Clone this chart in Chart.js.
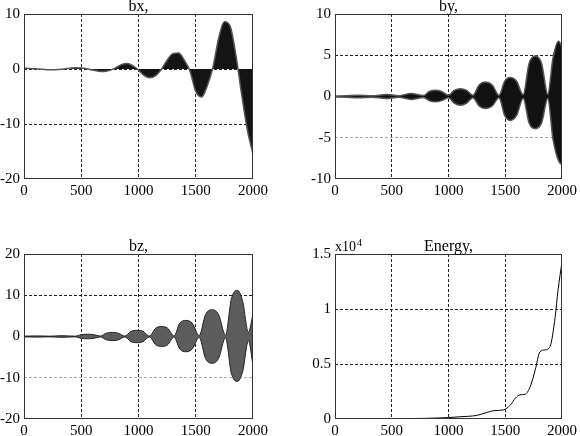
<!DOCTYPE html>
<html>
<head>
<meta charset="utf-8">
<script src="https://cdn.jsdelivr.net/npm/chart.js@4"></script>
<style>
  body { margin: 0; background: #fff; }
  #wrap { position: relative; width: 580px; height: 436px; }
  .cell { position: absolute; width: 290px; height: 218px; }
</style>
</head>
<body>
<div id="wrap">
  <div class="cell" style="left:0;top:0"><canvas id="bx" width="290" height="218"></canvas></div>
  <div class="cell" style="left:290px;top:0"><canvas id="by" width="290" height="218"></canvas></div>
  <div class="cell" style="left:0;top:218px"><canvas id="bz" width="290" height="218"></canvas></div>
  <div class="cell" style="left:290px;top:218px"><canvas id="energy" width="290" height="218"></canvas></div>
</div>
<script>
// x axis ticks shared by all four panels
const xTicks = [0, 500, 1000, 1500, 2000];

// bx: slowly varying curve, signal fills between it and zero
const bxX = [0, 50, 100, 150, 200, 250, 300, 350, 400, 450, 500, 550, 600, 650, 700, 750, 800, 850, 900, 950,
  1000, 1050, 1100, 1150, 1200, 1250, 1300, 1350, 1400, 1450, 1500, 1550, 1600, 1650, 1700, 1750, 1800, 1850, 1900, 1950, 2000];
const bxY = [0.15, 0.1, 0.03, -0.05, -0.12, -0.15, -0.1, 0.0, 0.15, 0.25, 0.2, 0.05, -0.2, -0.4, -0.45, -0.25, 0.2, 0.8, 1.0, 0.6,
  -0.2, -1.2, -1.6, -1.2, -0.05, 1.6, 2.8, 2.9, 1.6, -0.4, -4.1, -5.1, -3.1, 0.3, 5.6, 8.6, 7.8, 2.6, -4.5, -11, -15.5];
const bxTicks = [-20, -10, 0, 10];

// by: upper / lower envelope of the oscillation
const byX = [0, 100, 200, 330, 450, 560, 670, 780, 830, 885, 940, 1000, 1050, 1106, 1160, 1215, 1270, 1324, 1385, 1445,
  1495, 1542, 1600, 1658, 1710, 1765, 1820, 1875, 1920, 1970, 2000];
const byUpper = [0.06, 0.1, 0.15, 0.08, 0.25, 0.1, 0.35, 0.12, 0.6, 0.75, 0.6, 0.15, 0.75, 0.95, 0.75, 0.15, 1.4, 1.75, 1.4, 0.15,
  1.85, 2.3, 1.85, 0.2, 4.0, 4.9, 4.0, 0.25, 4.6, 6.7, 6.0];
const byLower = [-0.06, -0.1, -0.15, -0.08, -0.25, -0.1, -0.35, -0.12, -0.5, -0.65, -0.5, -0.15, -0.8, -1.05, -0.8, -0.15, -1.15, -1.45, -1.15, -0.15,
  -2.3, -2.9, -2.3, -0.2, -3.2, -3.9, -3.2, -0.25, -5.1, -7.8, -8.3];
const byTicks = [-10, -5, 0, 5, 10];

// bz: upper / lower envelope
const bzX = [0, 110, 220, 330, 445, 500, 555, 610, 665, 720, 770, 825, 880, 935, 990, 1040, 1095, 1150, 1200, 1255, 1310,
  1360, 1415, 1470, 1530, 1585, 1643, 1700, 1760, 1810, 1863, 1910, 1960, 2000];
const bzUpper = [0.08, 0.15, 0.08, 0.2, 0.08, 0.45, 0.55, 0.45, 0.1, 0.8, 1.0, 0.8, 0.1, 1.25, 1.5, 1.25, 0.1, 2.0, 2.4, 2.0, 0.15,
  3.2, 3.9, 3.2, 0.2, 5.3, 6.5, 5.3, 0.3, 9.0, 11.2, 8.5, 1.0, 5.5];
const bzLower = [-0.08, -0.15, -0.08, -0.2, -0.08, -0.45, -0.55, -0.45, -0.1, -0.8, -1.0, -0.8, -0.1, -1.25, -1.5, -1.25, -0.1, -2.0, -2.4, -2.0, -0.15,
  -3.0, -3.7, -3.0, -0.2, -5.3, -6.5, -5.3, -0.3, -8.8, -10.9, -8.5, -1.0, -7.0];
const bzTicks = [-20, -10, 0, 10, 20];

// energy (units of 1e4)
const enX = [0, 500, 800, 1000, 1100, 1250, 1340, 1400, 1485, 1545, 1590, 1630, 1675, 1720, 1765, 1805, 1850, 1895, 1940, 1965, 2000];
const enY = [0, 0.003, 0.006, 0.013, 0.02, 0.033, 0.06, 0.076, 0.083, 0.127, 0.19, 0.22, 0.225, 0.295, 0.45, 0.61, 0.628, 0.66, 0.93, 1.17, 1.43];
const enTicks = [0, 0.5, 1, 1.5];

const serif = "'Liberation Serif', 'DejaVu Serif', serif";

function pts(xs, ys) {
  return xs.map((x, i) => ({ x, y: ys[i] }));
}

const framePlugin = {
  id: "frame",
  afterDatasetsDraw(chart, args, opts) {
    const { ctx, chartArea: a } = chart;
    ctx.save();
    ctx.strokeStyle = "#333";
    ctx.lineWidth = 1;
    ctx.strokeRect(Math.round(a.left) + 0.5, Math.round(a.top) + 0.5,
      Math.round(a.right - a.left) - 1, Math.round(a.bottom - a.top) - 1);
    // panel title
    ctx.fillStyle = "#000";
    ctx.font = "16px " + serif;
    ctx.textAlign = "center";
    ctx.textBaseline = "alphabetic";
    ctx.fillText(opts.title, (a.left + a.right) / 2, a.top - 3);
    if (opts.exponent) {
      ctx.textAlign = "left";
      ctx.font = "14px " + serif;
      ctx.fillText("x10", a.left, a.top - 3);
      ctx.font = "10px " + serif;
      ctx.fillText("4", a.left + 22, a.top - 8);
    }
    ctx.restore();
  }
};

function makeChart(id, cfg) {
  const ticksY = cfg.yTicks;
  new Chart(document.getElementById(id), {
    type: "line",
    data: { datasets: cfg.datasets },
    options: {
      responsive: false,
      animation: false,
      layout: { padding: cfg.padding },
      plugins: {
        legend: { display: false },
        tooltip: { enabled: false },
        frame: { title: cfg.title, exponent: cfg.exponent }
      },
      elements: { point: { radius: 0 } },
      scales: {
        x: {
          type: "linear",
          min: 0,
          max: 2000,
          afterBuildTicks: (s) => { s.ticks = xTicks.map((v) => ({ value: v })); },
          afterFit: (s) => { s.height = cfg.xHeight; },
          grid: {
            drawTicks: false,
            color: (c) => (c.tick && (c.tick.value === 0 || c.tick.value === 2000) ? "rgba(0,0,0,0)" : "#222")
          },
          border: { display: false, dash: [3, 2] },
          ticks: {
            color: "#000", padding: 3, maxRotation: 0, font: { family: serif, size: 15 },
            callback: (v) => String(v)
          }
        },
        y: {
          min: ticksY[0],
          max: ticksY[ticksY.length - 1],
          afterBuildTicks: (s) => { s.ticks = ticksY.map((v) => ({ value: v })); },
          afterFit: (s) => { s.width = cfg.yWidth; },
          grid: {
            drawTicks: false,
            color: (c) => {
              if (!c.tick) return "#222";
              const v = c.tick.value;
              if (v === ticksY[0] || v === ticksY[ticksY.length - 1]) return "rgba(0,0,0,0)";
              if (cfg.grayLine !== undefined && v === cfg.grayLine) return "#aaa";
              return "#222";
            }
          },
          border: { display: false, dash: [3, 2] },
          ticks: {
            color: "#000", padding: 4, font: { family: serif, size: 15 },
            callback: (v) => String(v)
          }
        }
      }
    },
    plugins: [framePlugin]
  });
}

makeChart("bx", {
  title: "bx,",
  yTicks: bxTicks,
  padding: { top: 14, right: 37, left: 0, bottom: 0 },
  yWidth: 24,
  xHeight: 39,
  datasets: [{
    data: pts(bxX, bxY),
    borderColor: "#555",
    borderWidth: 1.5,
    backgroundColor: "#141414",
    fill: "origin",
    cubicInterpolationMode: "monotone"
  }]
});

makeChart("by", {
  title: "by,",
  yTicks: byTicks,
  grayLine: -5,
  padding: { top: 14, right: 16, left: 0, bottom: 0 },
  yWidth: 45,
  xHeight: 39,
  datasets: [
    { data: pts(byX, byUpper), borderColor: "#555", borderWidth: 1.5, fill: false, cubicInterpolationMode: "monotone" },
    { data: pts(byX, byLower), borderColor: "#555", borderWidth: 1.5, backgroundColor: "#111", fill: "-1", cubicInterpolationMode: "monotone" }
  ]
});

makeChart("bz", {
  title: "bz,",
  yTicks: bzTicks,
  grayLine: -10,
  padding: { top: 36, right: 37, left: 0, bottom: 0 },
  yWidth: 24,
  xHeight: 17,
  datasets: [
    { data: pts(bzX, bzUpper), borderColor: "#222", borderWidth: 1, fill: false, cubicInterpolationMode: "monotone" },
    { data: pts(bzX, bzLower), borderColor: "#222", borderWidth: 1, backgroundColor: "#5c5c5c", fill: "-1", cubicInterpolationMode: "monotone" },
    { data: pts([0, 2000], [0, 0]), borderColor: "#111", borderWidth: 1, fill: false }
  ]
});

makeChart("energy", {
  title: "Energy,",
  exponent: true,
  yTicks: enTicks,
  padding: { top: 36, right: 16, left: 0, bottom: 0 },
  yWidth: 45,
  xHeight: 17,
  datasets: [{
    data: pts(enX, enY),
    borderColor: "#000",
    borderWidth: 1,
    fill: false,
    cubicInterpolationMode: "monotone"
  }]
});
</script>
</body>
</html>
